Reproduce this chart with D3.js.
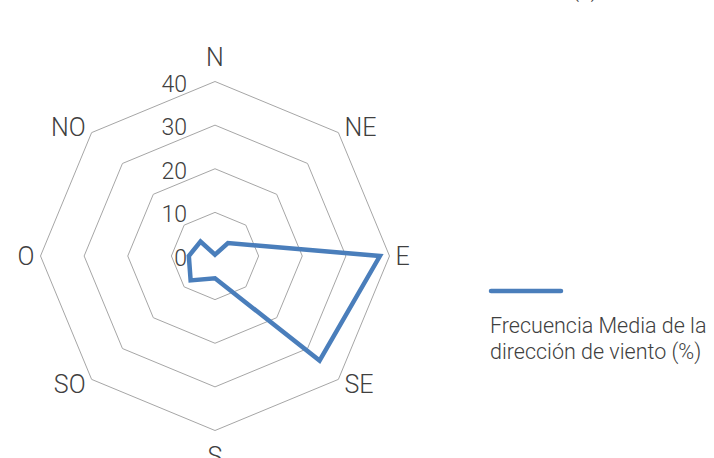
<!DOCTYPE html>
<html>
<head>
    <meta charset="utf-8" />
    <title>Frecuencia media de la dirección de viento</title>
    <style>
        body { margin: 0; background: #fff; }
        text { font-family: Roboto, "Liberation Sans", sans-serif; font-weight: 300; fill: #404040; }
    </style>
</head>
<body>
<script src="https://d3js.org/d3.v7.min.js"></script>
<script>
    // wind direction frequency (%)
    var directions = ["N", "NE", "E", "SE", "S", "SO", "O", "NO"];
    var frequency = [0.3, 4.2, 37.8, 33.9, 5.1, 7.9, 6.0, 4.7];
    var ticks = [0, 10, 20, 30, 40];
    var seriesName = ["Frecuencia Media de la", "dirección de viento (%)"];

    var width = 714;
    var height = 458;
    var center = {"x": 215, "y": 256};
    var radius = 174.5;

    var svg = d3.select("body").append("svg")
                .attr("width", width)
                .attr("height", height);

    var rScale = d3.scaleLinear()
                   .domain([0, d3.max(ticks)])
                   .range([0, radius]);

    var angle = d3.scalePoint()
                  .domain(directions.concat(["_"]))
                  .range([0, 2 * Math.PI]);

    function px(dir, v) { return center.x + rScale(v) * Math.sin(angle(dir)); }
    function py(dir, v) { return center.y - rScale(v) * Math.cos(angle(dir)); }

    // cut off title at the very top
    svg.append("text")
       .attr("x", 585)
       .attr("y", -3)
       .style("text-anchor", "middle")
       .style("font-size", "22px")
       .text("(a)");

    // octagon rings
    var ringLine = d3.line()
                     .x(d => d[0])
                     .y(d => d[1]);

    svg.append("g")
       .selectAll("path")
       .data(ticks.filter(t => t > 0))
       .enter().append("path")
       .attr("d", t => ringLine(directions.map(dir => [px(dir, t), py(dir, t)])) + "Z")
       .style("fill", "none")
       .style("stroke", "#a6a6a6")
       .style("stroke-width", "1px");

    // tick labels on the N spoke
    svg.append("g")
       .selectAll("text")
       .data(ticks)
       .enter().append("text")
       .attr("x", center.x - 28)
       .attr("y", t => py("N", t) + 10)
       .style("text-anchor", "end")
       .style("font-size", "23px")
       .text(t => t);

    // direction labels
    svg.append("g")
       .selectAll("text")
       .data(directions)
       .enter().append("text")
       .attr("x", function(dir){
           var s = Math.sin(angle(dir));
           var off = Math.abs(s) < 0.1 ? 0 : (s > 0 ? 6 : -6);
           return px(dir, d3.max(ticks)) + off;
       })
       .attr("y", function(dir){
           var c = Math.cos(angle(dir));
           var vy = py(dir, d3.max(ticks));
           if (c > 0.9) return vy - 16;
           if (c > 0.1) return vy + 3;
           if (c > -0.1) return vy + 9;
           if (c > -0.9) return vy + 14;
           return vy + 34;
       })
       .style("text-anchor", function(dir){
           var s = Math.sin(angle(dir));
           return Math.abs(s) < 0.1 ? "middle" : (s > 0 ? "start" : "end");
       })
       .style("font-size", "25px")
       .text(dir => dir);

    // data series
    var radarLine = d3.line()
                      .x((d, i) => px(directions[i], d))
                      .y((d, i) => py(directions[i], d));

    svg.append("path")
       .attr("d", radarLine(frequency) + "Z")
       .style("fill", "none")
       .style("stroke", "#4a7ebb")
       .style("stroke-width", "4.5px")
       .style("stroke-linejoin", "miter");

    // legend
    var legend = svg.append("g")
                    .attr("transform", "translate(491,291)");

    legend.append("line")
          .attr("x1", 0)
          .attr("x2", 70)
          .attr("y1", 0)
          .attr("y2", 0)
          .style("stroke", "#4a7ebb")
          .style("stroke-width", "4.5px")
          .style("stroke-linecap", "round");

    legend.selectAll("text")
          .data(seriesName)
          .enter().append("text")
          .attr("x", -1)
          .attr("y", (d, i) => 42 + i * 25.5)
          .style("font-size", "21.5px")
          .text(d => d);
</script>
</body>
</html>
